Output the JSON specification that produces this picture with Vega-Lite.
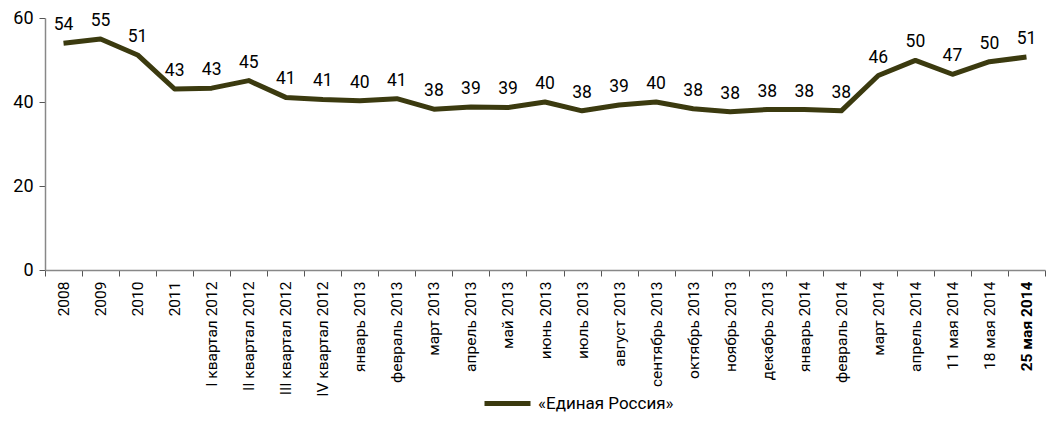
{
  "$schema": "https://vega.github.io/schema/vega-lite/v6.json",
  "width": 1000,
  "height": 252,
  "autosize": {"type": "none"},
  "padding": {"left": 45, "top": 18, "right": 6, "bottom": 160},
  "background": "white",
  "config": {"view": {"stroke": null}, "font": "Roboto"},
  "data": {"values": [
    {"period": "2008", "v": 54.0, "label": "54", "series": "«Единая Россия»"},
    {"period": "2009", "v": 55.0, "label": "55", "series": "«Единая Россия»"},
    {"period": "2010", "v": 51.2, "label": "51", "series": "«Единая Россия»"},
    {"period": "2011", "v": 43.1, "label": "43", "series": "«Единая Россия»"},
    {"period": "I квартал 2012", "v": 43.3, "label": "43", "series": "«Единая Россия»"},
    {"period": "II квартал 2012", "v": 45.1, "label": "45", "series": "«Единая Россия»"},
    {"period": "III квартал 2012", "v": 41.1, "label": "41", "series": "«Единая Россия»"},
    {"period": "IV квартал 2012", "v": 40.6, "label": "41", "series": "«Единая Россия»"},
    {"period": "январь 2013", "v": 40.3, "label": "40", "series": "«Единая Россия»"},
    {"period": "февраль 2013", "v": 40.8, "label": "41", "series": "«Единая Россия»"},
    {"period": "март 2013", "v": 38.3, "label": "38", "series": "«Единая Россия»"},
    {"period": "апрель 2013", "v": 38.8, "label": "39", "series": "«Единая Россия»"},
    {"period": "май 2013", "v": 38.7, "label": "39", "series": "«Единая Россия»"},
    {"period": "июнь 2013", "v": 40.0, "label": "40", "series": "«Единая Россия»"},
    {"period": "июль 2013", "v": 37.9, "label": "38", "series": "«Единая Россия»"},
    {"period": "август 2013", "v": 39.3, "label": "39", "series": "«Единая Россия»"},
    {"period": "сентябрь 2013", "v": 40.0, "label": "40", "series": "«Единая Россия»"},
    {"period": "октябрь 2013", "v": 38.4, "label": "38", "series": "«Единая Россия»"},
    {"period": "ноябрь 2013", "v": 37.7, "label": "38", "series": "«Единая Россия»"},
    {"period": "декабрь 2013", "v": 38.2, "label": "38", "series": "«Единая Россия»"},
    {"period": "январь 2014", "v": 38.2, "label": "38", "series": "«Единая Россия»"},
    {"period": "февраль 2014", "v": 37.9, "label": "38", "series": "«Единая Россия»"},
    {"period": "март 2014", "v": 46.3, "label": "46", "series": "«Единая Россия»"},
    {"period": "апрель 2014", "v": 49.9, "label": "50", "series": "«Единая Россия»"},
    {"period": "11 мая 2014", "v": 46.6, "label": "47", "series": "«Единая Россия»"},
    {"period": "18 мая 2014", "v": 49.6, "label": "50", "series": "«Единая Россия»"},
    {"period": "25 мая 2014", "v": 50.7, "label": "51", "series": "«Единая Россия»"}
  ]},
  "encoding": {
    "x": {
      "field": "period", "type": "nominal", "sort": null, "title": null,
      "scale": {"paddingInner": 0, "paddingOuter": 0},
      "axis": {
        "labelAngle": -90, "labelAlign": "right", "labelBaseline": "middle",
        "labelFontSize": 15.5, "labelColor": "black", "labelPadding": 5,
        "labelFont": "Roboto",
        "labelFontWeight": {"condition": {"test": "datum.value == '25 мая 2014'", "value": "bold"}, "value": "normal"},
        "tickBand": "extent", "tickColor": "#555", "tickSize": 6,
        "domainColor": "#888", "domainWidth": 1.5, "grid": false
      }
    },
    "y": {
      "field": "v", "type": "quantitative", "title": null,
      "scale": {"domain": [0, 60], "nice": false},
      "axis": {
        "values": [0, 20, 40, 60], "labelFontSize": 18, "labelColor": "black",
        "labelFont": "Roboto", "labelPadding": 6,
        "tickColor": "#555", "tickSize": 6, "domainColor": "#888",
        "domainWidth": 1.5, "grid": false
      }
    }
  },
  "layer": [
    {
      "mark": {"type": "line", "color": "#3b3a0f", "strokeWidth": 5, "strokeJoin": "round"},
      "encoding": {
        "color": {
          "field": "series", "type": "nominal",
          "scale": {"range": ["#3b3a0f"]},
          "legend": {
            "title": null, "orient": "none", "legendX": 437, "legendY": 360,
            "symbolType": "stroke", "symbolStrokeWidth": 5, "symbolSize": 2116,
            "labelFontSize": 17, "labelColor": "black", "labelFont": "Roboto",
            "labelOffset": 5
          }
        }
      }
    },
    {
      "mark": {"type": "text", "dy": -18, "fontSize": 17.5, "color": "black", "font": "Roboto"},
      "encoding": {
        "text": {"field": "label"},
        "fontWeight": {"condition": {"test": "datum.period == '25 мая 2014'", "value": "bold"}, "value": "normal"}
      }
    }
  ]
}
